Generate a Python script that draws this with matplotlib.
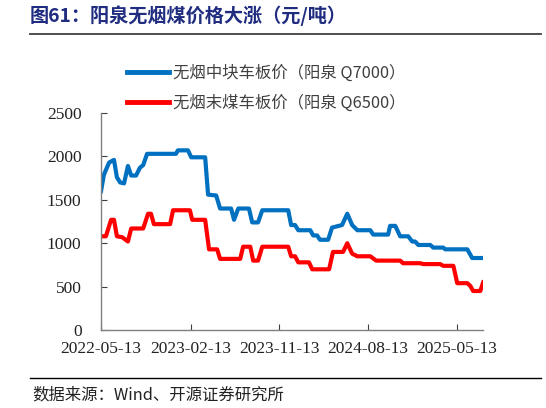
import pandas as pd
import matplotlib.pyplot as plt
import matplotlib.dates as mdates
from matplotlib.lines import Line2D

plt.rcParams['font.family'] = ['Liberation Serif', 'Noto Sans CJK SC', 'DejaVu Sans']

# 无烟中块车板价（阳泉 Q7000）
blue_dates = ["2022-05-13", "2022-05-22", "2022-06-07", "2022-06-22", "2022-07-01",
              "2022-07-11", "2022-07-23", "2022-08-04", "2022-08-14", "2022-08-29",
              "2022-09-10", "2022-09-20", "2022-10-02", "2022-12-30", "2023-01-05",
              "2023-02-05", "2023-02-15", "2023-03-30", "2023-04-08", "2023-05-03",
              "2023-05-15", "2023-06-18", "2023-06-27", "2023-07-10", "2023-08-12",
              "2023-08-22", "2023-09-09", "2023-09-22", "2023-12-11", "2023-12-20",
              "2024-01-01", "2024-01-11", "2024-02-17", "2024-02-26", "2024-03-09",
              "2024-03-18", "2024-04-12", "2024-04-24", "2024-05-25", "2024-06-10",
              "2024-06-25", "2024-07-11", "2024-08-20", "2024-08-29", "2024-10-14",
              "2024-10-20", "2024-11-05", "2024-11-20", "2024-12-15", "2024-12-27",
              "2025-01-05", "2025-01-15", "2025-02-21", "2025-03-02", "2025-04-02",
              "2025-04-08", "2025-06-15", "2025-06-30", "2025-08-03"]
blue_vals = [1600, 1790, 1930, 1960, 1760,
             1700, 1690, 1890, 1780, 1780,
             1870, 1900, 2030, 2030, 2070,
             2070, 1990, 1990, 1560, 1550,
             1400, 1400, 1270, 1400, 1400,
             1240, 1240, 1380, 1380, 1210,
             1210, 1150, 1150, 1090, 1090,
             1040, 1040, 1180, 1210, 1340,
             1210, 1150, 1150, 1100, 1100,
             1200, 1200, 1080, 1080, 1020,
             1020, 980, 980, 950, 950,
             930, 930, 830, 830]

# 无烟末煤车板价（阳泉 Q6500）
red_dates = ["2022-05-13", "2022-05-28", "2022-06-13", "2022-06-22", "2022-07-01",
             "2022-07-17", "2022-08-04", "2022-08-14", "2022-09-20", "2022-10-05",
             "2022-10-14", "2022-10-23", "2022-12-12", "2022-12-21", "2023-02-11",
             "2023-02-18", "2023-03-30", "2023-04-11", "2023-05-06", "2023-05-15",
             "2023-07-16", "2023-07-25", "2023-08-16", "2023-08-25", "2023-09-09",
             "2023-09-22", "2023-12-11", "2023-12-20", "2024-01-01", "2024-01-11",
             "2024-02-13", "2024-02-23", "2024-04-15", "2024-04-27", "2024-05-28",
             "2024-06-10", "2024-06-25", "2024-07-11", "2024-08-20", "2024-09-07",
             "2024-11-20", "2024-11-29", "2025-01-21", "2025-01-30", "2025-03-23",
             "2025-04-02", "2025-05-03", "2025-05-15", "2025-06-15", "2025-06-24",
             "2025-07-03", "2025-07-25", "2025-08-03"]
red_vals = [1080, 1080, 1270, 1270, 1080,
            1070, 1020, 1170, 1170, 1340,
            1340, 1220, 1220, 1380, 1380,
            1270, 1270, 930, 930, 820,
            820, 960, 960, 800, 800,
            960, 960, 850, 850, 780,
            780, 700, 700, 900, 900,
            1000, 880, 850, 850, 800,
            800, 770, 770, 760, 760,
            740, 740, 540, 540, 510,
            450, 450, 550]

tick_dates = ["2022-05-13", "2023-02-13", "2023-11-13", "2024-08-13", "2025-05-13"]
y_ticks = [0, 500, 1000, 1500, 2000, 2500]

blue_name = "无烟中块车板价（阳泉 Q7000）"
red_name = "无烟末煤车板价（阳泉 Q6500）"
title = "图61：阳泉无烟煤价格大涨（元/吨）"
source = "数据来源：Wind、开源证券研究所"

fig = plt.figure(figsize=(5.46, 4.08), dpi=100)
ax = fig.add_axes([0.185, 0.191, 0.700, 0.532])

ax.plot(pd.to_datetime(blue_dates), blue_vals, color="#0070C0", lw=3.0, solid_joinstyle="round")
ax.plot(pd.to_datetime(red_dates), red_vals, color="#FF0000", lw=3.0, solid_joinstyle="round")

ax.set_xlim(pd.Timestamp("2022-05-13"), pd.Timestamp("2025-08-03"))
ax.set_ylim(0, 2500)
ax.set_yticks(y_ticks)
ax.set_xticks(pd.to_datetime(tick_dates))
ax.xaxis.set_major_formatter(mdates.DateFormatter("%Y-%m-%d"))

for s in ["top", "right"]:
    ax.spines[s].set_visible(False)
for s in ["left", "bottom"]:
    ax.spines[s].set_color("#808080")
    ax.spines[s].set_linewidth(1.0)
ax.tick_params(direction="in", length=4, color="#404040", labelsize=12.5,
               labelcolor="#222222")
ax.tick_params(axis="y", pad=14)
ax.tick_params(axis="x", pad=8)

handles = [Line2D([], [], color="#0070C0", lw=3.5),
           Line2D([], [], color="#FF0000", lw=3.5)]
fig.legend(handles, [blue_name, red_name], loc="upper left",
           bbox_to_anchor=(0.205, 0.878), frameon=False, handlelength=2.6,
           handletextpad=0.2, labelspacing=0.75,
           prop={"family": ["Noto Sans CJK SC"], "size": 11.8},
           labelcolor="#404040")

fig.text(0.055, 0.962, title, ha="left", va="center", fontsize=13.8,
         fontweight="bold", color="#1F2C80", family=["Noto Sans CJK SC"])
fig.add_artist(Line2D([0.055, 0.991], [0.917, 0.917], color="#404040", lw=1.3))
fig.add_artist(Line2D([0.055, 0.991], [0.074, 0.074], color="#000000", lw=1.0))
fig.text(0.06, 0.033, source, ha="left", va="center", fontsize=11.8,
         color="#222222", family=["Noto Sans CJK SC", "Liberation Serif"])

fig.savefig("out.png", dpi=100)
